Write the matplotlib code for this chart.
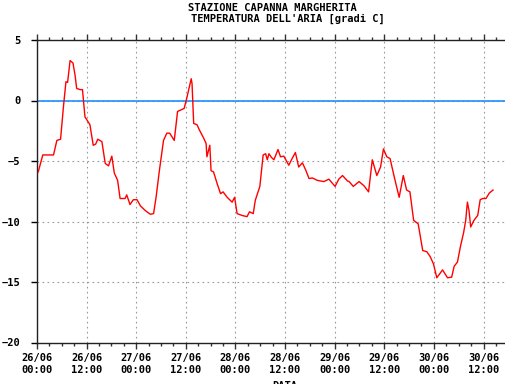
"""Temperatura dell'aria - Stazione Capanna Margherita"""
from datetime import datetime, timedelta

import matplotlib
matplotlib.use("Agg")
import matplotlib.pyplot as plt
import matplotlib.dates as mdates

# ore dall'inizio (26/06 00:00) e temperatura [gradi C]
ore = [0.3, 1.4, 4.0, 4.8, 5.7, 6.4, 7.0, 7.4, 8.0, 8.7, 9.2, 9.6, 10.4, 11.0,
       11.6, 12.8, 13.6, 14.2, 14.7, 15.7, 16.5, 17.3, 18.1, 18.7, 19.5, 20.1,
       21.3, 21.7, 22.5, 23.3, 24.2, 25.0, 26.2, 27.4, 28.2, 28.8, 29.6, 30.6,
       31.4, 32.1, 33.2, 34.0, 34.7, 35.6, 36.3, 37.3, 37.5, 37.9, 38.7, 39.3,
       40.3, 40.9, 41.1, 41.5, 41.8, 42.1, 42.7, 43.6, 44.4, 45.0, 46.0, 47.2,
       47.8, 48.4, 49.6, 50.8, 51.4, 52.3, 52.8, 53.9, 54.7, 55.3, 55.7, 56.1,
       56.7, 57.3, 58.3, 58.9, 59.7, 60.9, 61.7, 62.5, 63.3, 64.2, 65.0, 65.8,
       66.6, 67.8, 69.4, 70.6, 72.1, 73.0, 73.9, 75.1, 75.5, 76.5, 77.9, 79.1,
       80.2, 81.1, 82.2, 83.1, 83.8, 84.6, 85.4, 86.4, 87.6, 88.6, 89.4, 90.2,
       91.1, 92.2, 93.3, 94.3, 95.1, 95.9, 96.7, 98.1, 99.3, 100.3, 100.9,
       101.7, 102.4, 103.2, 103.7, 104.1, 104.5, 104.9, 105.7, 106.6, 107.2,
       107.8, 108.6, 109.4, 110.3]
temp = [-5.9, -4.5, -4.5, -3.3, -3.2, -0.5, 1.55, 1.5, 3.3, 3.1, 2.1, 1.0, 0.9,
        0.9, -1.35, -2.0, -3.7, -3.6, -3.2, -3.4, -5.2, -5.4, -4.6, -6.0, -6.6,
        -8.1, -8.1, -7.8, -8.6, -8.2, -8.2, -8.7, -9.1, -9.4, -9.35, -8.0,
        -5.8, -3.3, -2.7, -2.7, -3.3, -0.9, -0.8, -0.65, 0.3, 1.8, 1.4, -1.9,
        -2.0, -2.45, -3.1, -3.55, -4.65, -4.1, -3.7, -5.8, -5.9, -6.9, -7.7,
        -7.55, -8.0, -8.4, -8.0, -9.35, -9.5, -9.6, -9.2, -9.35, -8.25, -7.1,
        -4.5, -4.4, -4.9, -4.4, -4.7, -4.9, -4.05, -4.65, -4.6, -5.35, -4.8,
        -4.3, -5.5, -5.15, -5.75, -6.45, -6.4, -6.6, -6.7, -6.5, -7.1, -6.5,
        -6.2, -6.65, -6.7, -7.1, -6.7, -7.05, -7.55, -4.9, -6.2, -5.5, -4.0,
        -4.65, -4.8, -6.3, -8.0, -6.2, -7.4, -7.55, -9.9, -10.2, -12.4, -12.5,
        -12.9, -13.5, -14.65, -14.0, -14.65, -14.6, -13.7, -13.35, -12.1,
        -10.9, -9.9, -8.4, -9.1, -10.45, -9.9, -9.5, -8.2, -8.1, -8.1, -7.65,
        -7.4]

inizio = datetime(2000, 6, 26, 0, 0)
ore_fine = 113.2
y_ticks = [-20, -15, -10, -5, 0, 5]


def main():
    plt.rcParams['font.family'] = ['DejaVu Sans Mono']
    plt.rcParams['font.weight'] = 'bold'
    plt.rcParams['font.size'] = 7.5

    fig = plt.figure(figsize=(5.05, 3.84), dpi=100)
    ax = fig.add_axes([37 / 505, 1 - 342.5 / 384, 1 - 37 / 505, 302.5 / 384])

    tempi = [inizio + timedelta(hours=h) for h in ore]
    ax.axhline(0, color='#1e90ff', lw=1.2, zorder=2)
    ax.plot(tempi, temp, color='red', lw=1.0, zorder=3)

    ax.set_xlim(inizio, inizio + timedelta(hours=ore_fine))
    ax.set_ylim(-20, 5)
    ax.set_yticks(y_ticks)

    ax.xaxis.set_major_locator(mdates.HourLocator(byhour=[0, 12]))
    ax.xaxis.set_minor_locator(mdates.HourLocator(byhour=range(0, 24, 3)))
    ax.xaxis.set_major_formatter(mdates.DateFormatter('%d/%m\n%H:%M'))

    ax.grid(True, which='major', color='#999999', ls=(0, (1.5, 3)), lw=0.8)
    ax.tick_params(axis='x', which='major', direction='out', top=True,
                   length=4.5, width=1, pad=3, color='#333333')
    ax.tick_params(axis='x', which='minor', direction='out', top=True,
                   length=2, width=1, color='#333333')
    ax.tick_params(axis='y', direction='out', length=4, width=1, pad=8)
    for lbl in ax.get_xticklabels() + ax.get_yticklabels():
        lbl.set_fontweight('bold')

    ax.spines['right'].set_visible(False)
    for s in ('left', 'top', 'bottom'):
        ax.spines[s].set_linewidth(1.0)
        ax.spines[s].set_color('#222222')

    fig.text(188 / 505, 1 - 8 / 384, 'STAZIONE CAPANNA MARGHERITA',
             ha='left', va='center', fontweight='bold')
    fig.text(191 / 505, 1 - 19 / 384, "TEMPERATURA DELL'ARIA [gradi C]",
             ha='left', va='center', fontweight='bold')
    fig.text(285 / 505, 1 - 381 / 384, 'DATA', ha='center', va='top',
             fontweight='bold')

    fig.savefig('out.png', dpi=100)
    plt.close(fig)


if __name__ == "__main__":
    main()
